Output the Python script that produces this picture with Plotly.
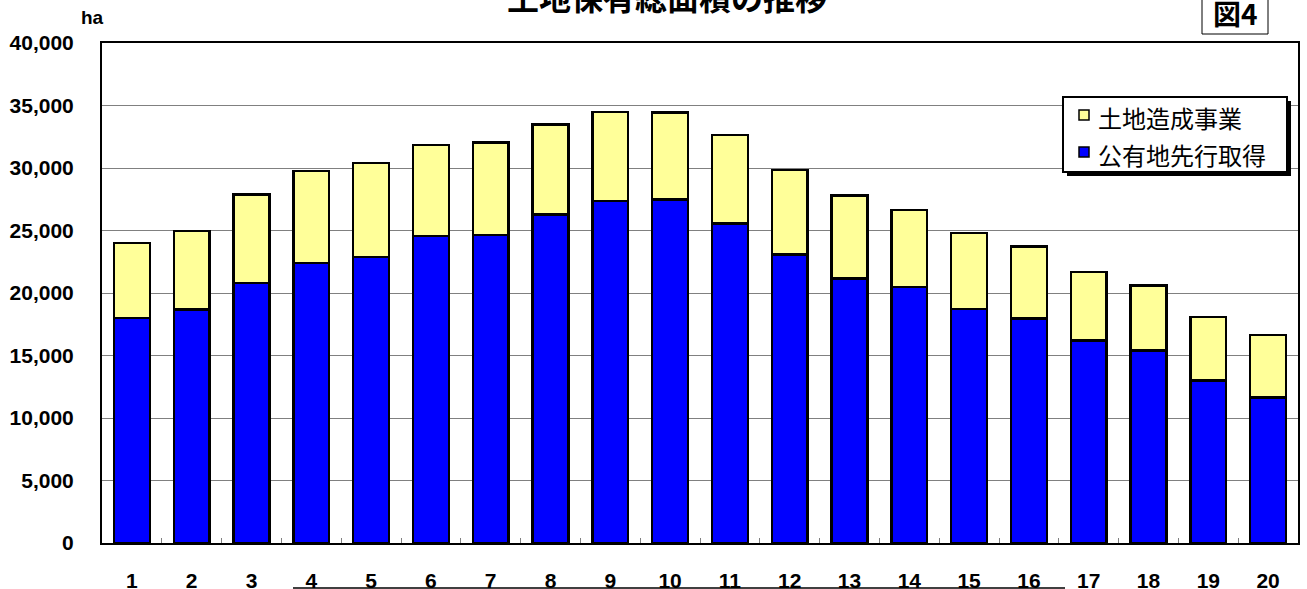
import plotly.graph_objects as go

categories = [str(i) for i in range(1, 21)]
kouyuchi = [18000, 18700, 20800, 22400, 22900, 24550, 24650, 26300, 27350, 27500,
            25550, 23100, 21150, 20480, 18720, 17950, 16200, 15400, 13000, 11650]
totals = [24000, 24950, 27900, 29750, 30400, 31850, 32050, 33500, 34500, 34450,
          32650, 29850, 27800, 26650, 24820, 23720, 21700, 20600, 18080, 16650]
tochi_zosei = [t - k for t, k in zip(totals, kouyuchi)]

y_ticks = [0, 5000, 10000, 15000, 20000, 25000, 30000, 35000, 40000]
series_names = ["土地造成事業", "公有地先行取得"]
series_colors = ["#FFFF99", "#0000FF"]

JP = "Noto Sans CJK JP"
NUM = "Liberation Sans"

fig = go.Figure()
fig.add_trace(go.Bar(
    x=categories, y=kouyuchi, name=series_names[1],
    marker=dict(color=series_colors[1], line=dict(color="black", width=2.5)),
))
fig.add_trace(go.Bar(
    x=categories, y=tochi_zosei, name=series_names[0],
    marker=dict(color=series_colors[0], line=dict(color="black", width=2.5)),
))

# body margin is removed by the post script, so page pixels = figure pixels
W, H = 1307, 589
L, R, T, B = 102, 9, 43, 46
pw, ph = W - L - R, H - T - B

def px(x):
    return (x - L) / pw

def py(y):
    return (H - B - y) / ph

shapes = [
    # legend shadow + box
    dict(type="rect", xref="paper", yref="paper",
         x0=px(1067), x1=px(1291), y0=py(176), y1=py(101),
         fillcolor="black", line=dict(width=0), layer="above"),
    dict(type="rect", xref="paper", yref="paper",
         x0=px(1063), x1=px(1287), y0=py(172), y1=py(97),
         fillcolor="white", line=dict(color="black", width=2), layer="above"),
    # figure number box
    dict(type="rect", xref="paper", yref="paper",
         x0=px(1202), x1=px(1268), y0=py(34), y1=py(-5),
         fillcolor="white", line=dict(color="black", width=1)),
    # underline below labels
    dict(type="line", xref="paper", yref="paper",
         x0=px(293), x1=px(1065), y0=py(588), y1=py(588),
         line=dict(color="black", width=1.5)),
]
annotations = [
    dict(text="<b>土地保有総面積の推移</b>", xref="paper", yref="paper",
         x=px(667), y=py(-4), xanchor="center", yanchor="middle",
         showarrow=False, font=dict(family=JP, size=32, color="black")),
    dict(text="<b>図4</b>", xref="paper", yref="paper",
         x=px(1235), y=py(13), xanchor="center", yanchor="middle",
         showarrow=False, font=dict(family=JP, size=28, color="black")),
    dict(text="<b>ha</b>", xref="paper", yref="paper",
         x=px(92), y=py(18), xanchor="center", yanchor="middle",
         showarrow=False, font=dict(family=NUM, size=19, color="black")),
]

legend_rows = [115, 152]
for name, color, yc in zip(series_names, series_colors, legend_rows):
    shapes.append(dict(type="rect", xref="paper", yref="paper",
                       x0=px(1079), x1=px(1089), y0=py(yc + 5), y1=py(yc - 5),
                       fillcolor=color, line=dict(color="black", width=1.5),
                       layer="above"))
    annotations.append(dict(text=name, xref="paper", yref="paper",
                            x=px(1096), y=py(yc + 2), xanchor="left", yanchor="middle",
                            showarrow=False,
                            font=dict(family=JP, size=24, color="black")))

fig.update_layout(
    width=W, height=H,
    margin=dict(l=L, r=R, t=T, b=B, autoexpand=False),
    barmode="stack", bargap=0.4,
    plot_bgcolor="white", paper_bgcolor="white",
    showlegend=False,
    xaxis=dict(
        type="category", showline=True, linecolor="black", linewidth=2, mirror=True,
        ticks="inside", tickson="boundaries", ticklen=5, tickcolor="#808080",
        tickfont=dict(family=NUM, size=21, color="black", weight="bold"),
        ticklabelstandoff=18, showgrid=False,
    ),
    yaxis=dict(
        range=[0, 40000], tickvals=y_ticks, tickformat=",",
        showline=True, linecolor="black", linewidth=2, mirror=True,
        showgrid=True, gridcolor="#808080", gridwidth=1, zeroline=False,
        ticks="", ticklabelstandoff=22,
        tickfont=dict(family=NUM, size=21, color="black", weight="bold"),
    ),
    shapes=shapes,
    annotations=annotations,
)

fig.write_html(
    "out.html",
    config={"displayModeBar": False},
    post_script="document.body.style.margin='0';document.body.style.overflow='hidden';",
)
